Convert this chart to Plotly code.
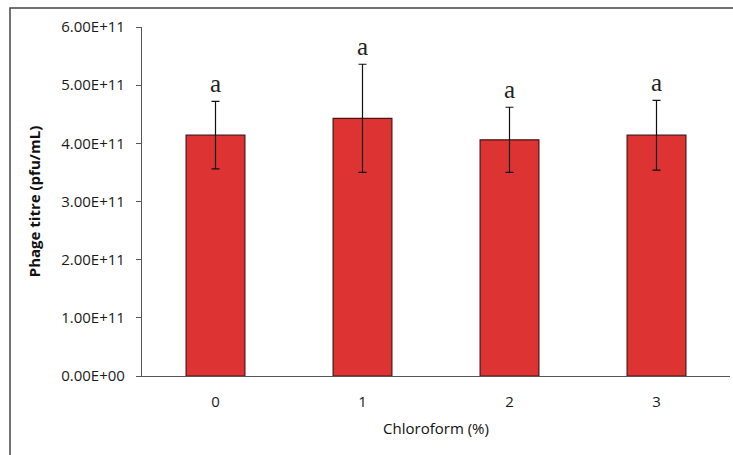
import plotly.graph_objects as go

categories = ["0", "1", "2", "3"]
titre = [4.14e11, 4.43e11, 4.06e11, 4.14e11]
errors = [0.58e11, 0.93e11, 0.56e11, 0.60e11]
letters = ["a", "a", "a", "a"]
ytick_vals = [0, 1e11, 2e11, 3e11, 4e11, 5e11, 6e11]
ytick_text = ["0.00E+00", "1.00E+11", "2.00E+11", "3.00E+11", "4.00E+11", "5.00E+11", "6.00E+11"]

fig = go.Figure()
fig.add_trace(go.Bar(
    x=categories, y=titre,
    width=0.4,
    marker=dict(color="#DD3333", line=dict(color="#4a1515", width=1.2)),
    error_y=dict(type="data", array=errors, visible=True, color="#111111", thickness=1.2, width=4),
))

for c, v, e, l in zip(categories, titre, errors, letters):
    fig.add_annotation(x=c, y=v + e, text=l, showarrow=False, yanchor="bottom", yshift=2,
                       font=dict(family="Liberation Serif", size=25, color="#222222"))

# outer frame
W, H = 733, 455
l_m, r_m, t_m, b_m = 142, 3, 27, 79
pw, ph = W - l_m - r_m, H - t_m - b_m
fig.add_shape(type="rect", xref="paper", yref="paper",
              x0=(10 - l_m) / pw, x1=(W + 5 - l_m) / pw,
              y0=-(b_m + 5) / ph, y1=1 + (t_m - 8) / ph,
              line=dict(color="#444444", width=1.5), fillcolor="rgba(0,0,0,0)", layer="below")

fig.update_layout(
    width=W, height=H,
    margin=dict(l=l_m, r=r_m, t=t_m, b=b_m),
    plot_bgcolor="white", paper_bgcolor="white",
    showlegend=False,
    font=dict(family="Open Sans", size=15, color="#1a1a1a"),
    xaxis=dict(
        showline=True, linecolor="#555555", linewidth=1.2,
        ticks="", ticklabelstandoff=12,
        title=dict(text="Chloroform (%)", font=dict(family="Open Sans", size=15, color="#111111"), standoff=13),
        tickfont=dict(family="Open Sans", size=15, color="#1a1a1a"),
        range=[-0.5, 3.5],
    ),
    yaxis=dict(
        showline=True, linecolor="#555555", linewidth=1.2,
        ticks="outside", ticklen=5, tickcolor="#555555",
        tickvals=ytick_vals, ticktext=ytick_text,
        range=[0, 6e11], showgrid=False, zeroline=False,
        ticklabelstandoff=8,
        tickfont=dict(family="Open Sans", size=15, color="#1a1a1a"),
        title=dict(text="<b>Phage titre (pfu/mL)</b>", font=dict(family="Open Sans", size=15, color="#111111"), standoff=16),
    ),
)

fig.write_html("out.html")
